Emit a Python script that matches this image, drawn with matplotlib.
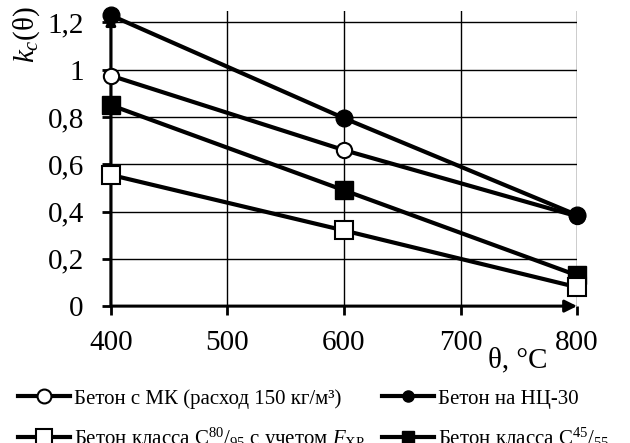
import matplotlib.pyplot as plt
from matplotlib.lines import Line2D

plt.rcParams['font.family'] = ['Liberation Serif', 'DejaVu Serif']
plt.rcParams['mathtext.fontset'] = 'custom'
plt.rcParams['mathtext.rm'] = 'Liberation Serif'
plt.rcParams['mathtext.it'] = 'Liberation Serif:italic'

# Данные
temp = [400, 600, 800]
k_mk = [0.975, 0.66, 0.38]
k_nc30 = [1.23, 0.795, 0.385]
k_c80 = [0.555, 0.32, 0.08]
k_c45 = [0.85, 0.49, 0.13]

lbl_mk = "Бетон с МК (расход 150 кг/м³)"
lbl_nc30 = "Бетон на НЦ-30"
lbl_c80 = r"Бетон класса С$^{80}$/$_{95}$ с учетом $F_{\mathrm{ХР}}$"
lbl_c45 = r"Бетон класса С$^{45}$/$_{55}$"

fig = plt.figure(figsize=(6.3, 4.43), dpi=100)
ax = fig.add_axes([0.176, 0.309, 0.74, 0.667])

ax.set_xlim(400, 800)
ax.set_ylim(0, 1.25)
ax.set_xticks([400, 500, 600, 700, 800])
ax.set_yticks([0, 0.2, 0.4, 0.6, 0.8, 1.0, 1.2])
ax.set_yticklabels(["0", "0,2", "0,4", "0,6", "0,8", "1", "1,2"])
ax.grid(True, color="black", linewidth=1.0)
ax.tick_params(labelsize=21, width=2, length=6.5, color="black")
ax.tick_params(axis="x", pad=11)
ax.tick_params(axis="y", pad=13)

for s in ["top", "right", "bottom", "left"]:
    ax.spines[s].set_visible(False)

# оси со стрелками
ax.annotate("", xy=(800, 0), xytext=(400, 0),
            arrowprops=dict(arrowstyle="-|>", color="black", lw=2.2, mutation_scale=18,
                            shrinkA=0, shrinkB=0), annotation_clip=False)
ax.annotate("", xy=(400, 1.23), xytext=(400, 0),
            arrowprops=dict(arrowstyle="-|>", color="black", lw=2.2, mutation_scale=14,
                            shrinkA=0, shrinkB=0), annotation_clip=False)

lw = 3
ax.plot(temp, k_mk, color="black", lw=lw, marker="o", ms=11, mfc="white", mec="black", mew=1.5, clip_on=False, zorder=5)
ax.plot(temp, k_c45, color="black", lw=lw, marker="s", ms=12.5, mfc="black", mec="black", clip_on=False, zorder=5)
ax.plot(temp, k_c80, color="black", lw=lw, marker="s", ms=12.5, mfc="white", mec="black", mew=1.5, clip_on=False, zorder=5)
ax.plot(temp, k_nc30, color="black", lw=lw, marker="o", ms=12, mfc="black", mec="black", clip_on=False, zorder=6)

ax.set_ylabel(r"$k_c$(θ)", fontsize=21, rotation=90, va="center")
ax.yaxis.set_label_coords(-0.18, 0.918)
ax.text(0.873, -0.183, "θ, °C", transform=ax.transAxes, fontsize=21, ha="center", va="center")

handles = [
    Line2D([], [], color="black", lw=3, marker="o", ms=10, mfc="white", mew=1.5),
    Line2D([], [], color="black", lw=3, marker="s", ms=11, mfc="white", mew=1.5),
    Line2D([], [], color="black", lw=3, marker="o", ms=8, mfc="black"),
    Line2D([], [], color="black", lw=3, marker="s", ms=9, mfc="black"),
]
fig.legend(handles, [lbl_mk, lbl_c80, lbl_nc30, lbl_c45], ncol=2, loc="upper left",
           bbox_to_anchor=(0.028, 0.122), frameon=False, fontsize=15, borderpad=0,
           handlelength=2.5, handletextpad=0.2, columnspacing=0.8, labelspacing=0.8,
           borderaxespad=0)

plt.savefig("out.png", dpi=100)
